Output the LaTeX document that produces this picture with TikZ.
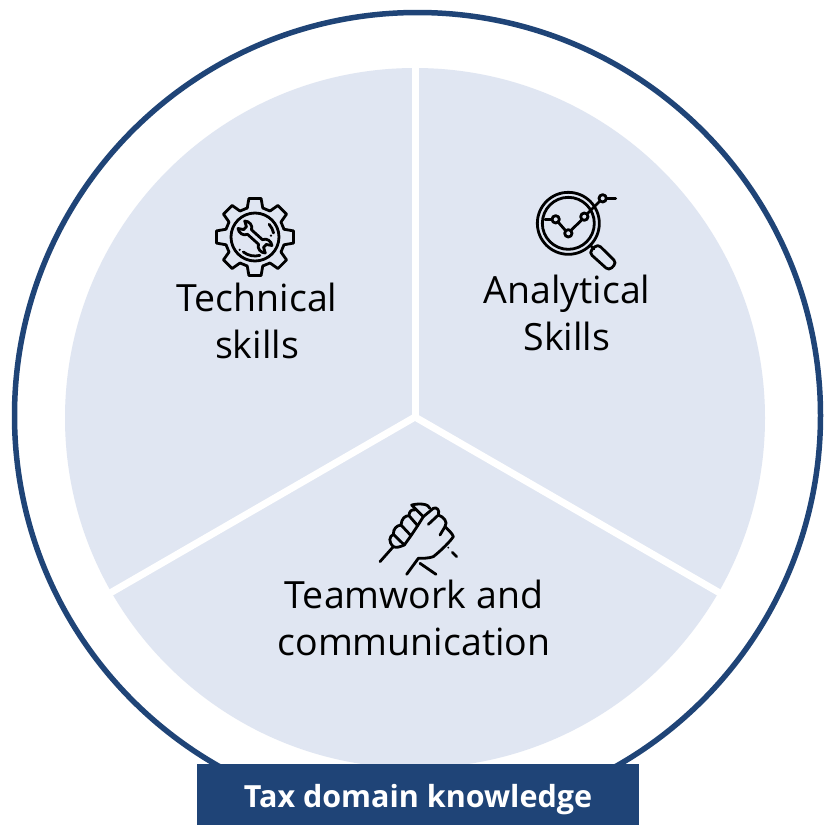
\documentclass[tikz,border=0pt]{standalone}
\usepackage{fontspec}
\usetikzlibrary{calc}
\setmainfont{Open Sans}
\definecolor{ringblue}{HTML}{1F4477}
\definecolor{piefill}{HTML}{E0E6F2}
\tikzset{
    sectorlabel/.style={align=center,font=\fontsize{37.5}{47}\selectfont,text=black,inner sep=0pt},
    icon/.style={draw=black,line width=2.8pt,line cap=round,line join=round},
    gapline/.style={draw=white,line width=7pt}
}
\begin{document}
\begin{tikzpicture}[x=1pt,y=-1pt]
    \useasboundingbox (0,0) rectangle (823,825);
    \fill[white] (0,0) rectangle (823,825);

    \draw[ringblue,line width=5.5pt] (417.5,415.5) circle (403);
    \fill[piefill] (415,418) circle (350);

    \coordinate (hub) at (415,417);
    \coordinate (topend) at (415,60);
    \coordinate (leftend) at ($(hub)+(150:358)$);
    \coordinate (rightend) at ($(hub)+(30:358)$);
    \draw[gapline] (hub) -- (topend);
    \draw[gapline] (hub) -- (leftend);
    \draw[gapline] (hub) -- (rightend);

    \node[sectorlabel] (technical) at (257,320.5) {Technical\\skills};
    \node[sectorlabel] (analytical) at (567,313) {Analytical\\Skills};
    \node[sectorlabel] (teamwork) at (414,618) {Teamwork and\\communication};

    % gear
    \begin{scope}[shift={(255,237)},icon]
        \foreach \a in {0,45,...,315} {
            \draw (\a-15:30) -- (\a-9:39) -- (\a+9:39) -- (\a+15:30) -- (\a+30:30);
        }
        \draw (0,0) circle (24);
        \draw (-42:19) arc (-42:-12:19);
        \draw (128:19) arc (128:75:19);
        \fill (-5:16) circle (1.2);
        \fill (140:20) circle (1.2);
        \draw[rotate=-42,scale=0.3333] (-22,-9) -- (22,-9)
            .. controls (28,-22) and (45,-24) .. (55,-15) -- (40,-6) -- (40,6) -- (55,15)
            .. controls (45,24) and (28,22) .. (22,9) -- (-22,9)
            .. controls (-28,22) and (-45,24) .. (-55,15) -- (-40,6) -- (-40,-6) -- (-55,-15)
            .. controls (-45,-24) and (-28,-22) .. (-22,-9) -- cycle;
    \end{scope}

    % magnifier
    \begin{scope}[shift={(525,180)},scale=0.3333,icon]
        \draw (130,130) circle (93);
        \draw (130,130) circle (78);
        \draw (197,197) -- (207,207);
        \draw[rounded corners=4pt] (192,218) -- (218,192) -- (275,248) -- (252,272) -- cycle;
        \foreach \px/\py in {92/118,130/160,178/110,233/55} {
            \draw (\px,\py) circle (11);
        }
        \draw (60,118) -- (81,118);
        \draw (100,127) -- (122,152);
        \draw (138,151) -- (170,120);
        \draw (186,102) -- (225,63);
        \draw (244,55) -- (272,55);
    \end{scope}

    % handshake
    \begin{scope}[shift={(365,495)},scale=0.3333,icon]
        \draw (45,200) -- (85,155);
        \draw (85,155) .. controls (70,140) and (72,125) .. (85,118)
            .. controls (85,100) and (95,92) .. (108,90)
            .. controls (110,70) and (120,62) .. (132,62)
            .. controls (132,48) and (142,42) .. (150,45);
        \draw (85,118) -- (118,150);
        \draw (108,90) -- (138,122);
        \draw (132,62) -- (158,92);
        \draw (85,155) .. controls (95,160) and (105,155) .. (118,150)
            -- (138,122) -- (158,92) -- (175,65) -- (140,30)
            .. controls (160,25) and (190,25) .. (195,40);
        \draw (175,65) -- (205,40) .. controls (215,35) and (225,45) .. (220,60)
            -- (190,88);
        \draw (220,60) .. controls (235,65) and (250,80) .. (240,95) -- (225,120);
        \draw (240,95) .. controls (250,105) and (262,115) .. (265,125)
            .. controls (255,140) and (230,165) .. (205,185)
            .. controls (190,190) and (175,190) .. (160,190) -- (125,238);
        \draw (165,205) -- (213,238);
        \fill (250,158) circle (3);
        \draw (262,172) -- (275,185);
    \end{scope}

    \node[fill=ringblue,text=white,font=\fontsize{30.5}{35}\bfseries\selectfont,
        minimum width=442pt,minimum height=61pt,inner sep=0pt,text height=26pt,text depth=0pt,name=banner] at (418,794.5) {Tax domain knowledge};
\end{tikzpicture}
\end{document}
